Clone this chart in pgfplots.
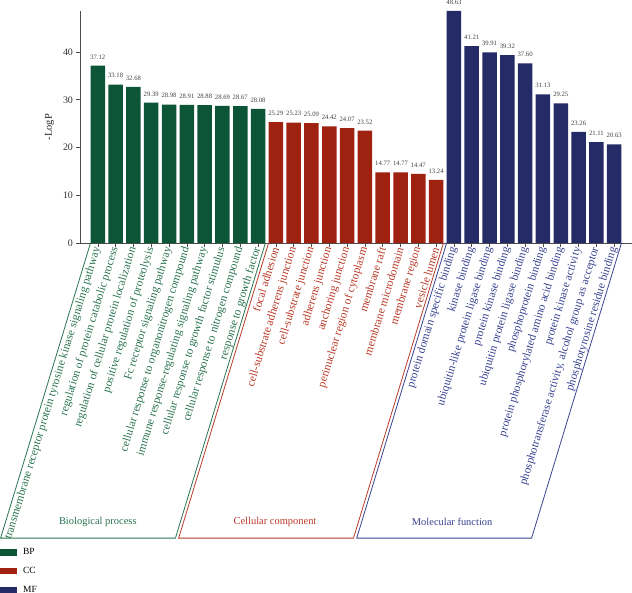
\documentclass[border=0pt]{standalone}
\usepackage{fontspec}
\setmainfont{Liberation Serif}
\usepackage{pgfplots}
\pgfplotsset{compat=1.18}
\definecolor{bpc}{HTML}{0C5536}
\definecolor{ccc}{HTML}{9F2210}
\definecolor{mfc}{HTML}{252B67}
\definecolor{bpt}{HTML}{2A7350}
\definecolor{cct}{HTML}{B83A28}
\definecolor{mft}{HTML}{3A4390}
\begin{document}
\begin{tikzpicture}
\begin{axis}[
  at={(0,0)}, anchor=south west,
  scale only axis, width=552bp, height=231.6bp,
  xmin=-1, xmax=30, ymin=0, ymax=48.5,
  axis x line=bottom, axis y line=left,
  x axis line style={-, black!70, line width=0.8bp},
  y axis line style={-, black!70, line width=0.8bp},
  tick align=outside,
  tick style={black!70, line width=0.6bp},
  major tick length=3.5bp,
  xtick={0,...,29},
  xticklabels={
    \textcolor{bpt}{transmembrane receptor protein tyrosine kinase signaling pathway},
    \textcolor{bpt}{regulation of protein catabolic process},
    \textcolor{bpt}{regulation of cellular protein localization},
    \textcolor{bpt}{positive regulation of proteolysis},
    \textcolor{bpt}{Fc receptor signaling pathway},
    \textcolor{bpt}{cellular response to organonitrogen compound},
    \textcolor{bpt}{immune response-regulating signaling pathway},
    \textcolor{bpt}{cellular response to growth factor stimulus},
    \textcolor{bpt}{cellular response to nitrogen compound},
    \textcolor{bpt}{response to growth factor},
    \textcolor{cct}{focal adhesion},
    \textcolor{cct}{cell-substrate adherens junction},
    \textcolor{cct}{cell-substrate junction},
    \textcolor{cct}{adherens junction},
    \textcolor{cct}{anchoring junction},
    \textcolor{cct}{perinuclear region of cytoplasm},
    \textcolor{cct}{membrane raft},
    \textcolor{cct}{membrane microdomain},
    \textcolor{cct}{membrane region},
    \textcolor{cct}{vesicle lumen},
    \textcolor{mft}{protein domain specific binding},
    \textcolor{mft}{kinase binding},
    \textcolor{mft}{ubiquitin-like protein ligase binding},
    \textcolor{mft}{protein kinase binding},
    \textcolor{mft}{ubiquitin protein ligase binding},
    \textcolor{mft}{phosphoprotein binding},
    \textcolor{mft}{protein phosphorylated amino acid binding},
    \textcolor{mft}{protein kinase activity},
    {\textcolor{mft}{phosphotransferase activity, alcohol group as acceptor}},
    \textcolor{mft}{phosphotyrosine residue binding}
  },
  x tick label style={rotate=73, anchor=east, font=\fontsize{11.5}{13}\selectfont, inner sep=1bp},
  ytick={0,10,20,30,40},
  y tick label style={font=\fontsize{10}{12}\selectfont, black!80},
  /pgf/number format/assume math mode=true,
  ylabel={-LogP},
  ylabel style={at={(axis description cs:-0.055,0.5)}, anchor=center, font=\fontsize{10.5}{12}\selectfont, black!85},
  ybar, bar width=14.5bp, bar shift=0pt,
  nodes near coords={\pgfmathprintnumber[fixed,fixed zerofill,precision=2]{\pgfplotspointmeta}},
  nodes near coords style={font=\fontsize{6.7}{7}\selectfont, black!75, yshift=3bp},
  clip=false,
  legend style={at={(axis description cs:-0.145,-1.31)}, anchor=north west, draw=none, fill=none,
    font=\fontsize{9.5}{10}\selectfont, row sep=7bp, column sep=4bp, inner sep=0pt},
  legend cell align=left,
  legend image code/.code={\fill[#1, draw=none] (0bp,-3.3bp) rectangle (17bp,3.3bp);},
]
\addplot[fill=bpc, draw=none] coordinates {
  (0,37.12) (1,33.18) (2,32.68) (3,29.39) (4,28.98)
  (5,28.91) (6,28.88) (7,28.69) (8,28.67) (9,28.08)};
\addlegendentry{BP}
\addplot[fill=ccc, draw=none] coordinates {
  (10,25.29) (11,25.23) (12,25.09) (13,24.42) (14,24.07)
  (15,23.52) (16,14.77) (17,14.77) (18,14.47) (19,13.24)};
\addlegendentry{CC}
\addplot[fill=mfc, draw=none] coordinates {
  (20,48.63) (21,41.21) (22,39.91) (23,39.32) (24,37.60)
  (25,31.13) (26,29.25) (27,23.26) (28,21.11) (29,20.63)};
\addlegendentry{MF}
\draw[bpt, line width=0.8bp] (axis cs:-0.41,0) -- (axis cs:-5.46,-61.8) -- (axis cs:4.36,-61.8) -- (axis cs:9.41,0);
\draw[cct, line width=0.8bp] (axis cs:9.59,0) -- (axis cs:4.54,-61.8) -- (axis cs:14.36,-61.8) -- (axis cs:19.41,0);
\draw[mft, line width=0.8bp] (axis cs:19.59,0) -- (axis cs:14.54,-61.8) -- (axis cs:24.36,-61.8) -- (axis cs:29.41,0);
\node[bpt, font=\fontsize{10.5}{12}\selectfont] at (axis cs:0,-58.4) {Biological process};
\node[cct, font=\fontsize{10.5}{12}\selectfont] at (axis cs:9.95,-58.4) {Cellular component};
\node[mft, font=\fontsize{10.5}{12}\selectfont] at (axis cs:19.9,-58.4) {Molecular function};
\end{axis}
\pgfresetboundingbox
\path (-80bp,-350bp) rectangle (552bp,243bp);
\end{tikzpicture}
\end{document}
